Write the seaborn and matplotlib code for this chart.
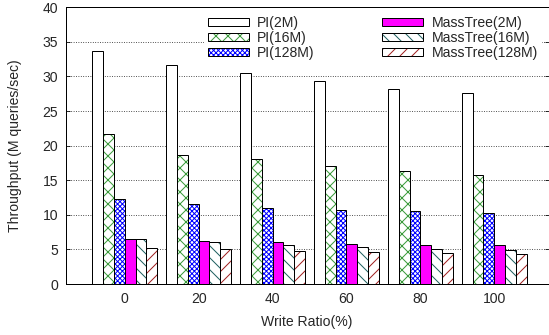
import pandas as pd
import matplotlib.pyplot as plt
import matplotlib.patches as mpatches
import seaborn as sns

# -----------------------------------------------------------------------------
# DATA
# -----------------------------------------------------------------------------

write_ratio = [0, 20, 40, 60, 80, 100]

series = ["PI(2M)", "PI(16M)", "PI(128M)",
          "MassTree(2M)", "MassTree(16M)", "MassTree(128M)"]

pi_2m = [33.7, 31.6, 30.5, 29.4, 28.2, 27.6]
pi_16m = [21.7, 18.6, 18.1, 17.1, 16.4, 15.8]
pi_128m = [12.3, 11.6, 11.0, 10.7, 10.6, 10.2]
mt_2m = [6.5, 6.2, 6.0, 5.8, 5.7, 5.6]
mt_16m = [6.5, 6.0, 5.7, 5.3, 5.1, 4.9]
mt_128m = [5.2, 5.0, 4.8, 4.6, 4.5, 4.4]

values = [pi_2m, pi_16m, pi_128m, mt_2m, mt_16m, mt_128m]

# styles per series
fill_colors = ["white", "white", "white", "#ff00ff", "white", "white"]
hatch_colors = ["black", "#3a9a3a", "#0000ff", "black", "#1f6060", "#a02020"]
hatches = ["", "xx", "xxxxx", "", "\\\\", "//"]

rows = []
for name, vals in zip(series, values):
    for r, v in zip(write_ratio, vals):
        rows.append({"ratio": r, "series": name, "throughput": v})
df = pd.DataFrame(rows)

# -----------------------------------------------------------------------------
# PLOT
# -----------------------------------------------------------------------------

sns.set_style("ticks")
plt.rcParams["font.family"] = ["Liberation Sans", "DejaVu Sans"]
plt.rcParams["hatch.linewidth"] = 1.0
FS = 14

fig = plt.figure(figsize=(549 / 72, 335 / 72), dpi=72)
ax = fig.add_axes([65.7 / 549, 1 - 284 / 335, (548.5 - 65.7) / 549, (284 - 7.3) / 335])

# hatched / filled bars
sns.barplot(data=df, x="ratio", y="throughput", hue="series", hue_order=series,
            palette=fill_colors, saturation=1, width=0.875, errorbar=None,
            linewidth=0, legend=False, ax=ax)
for cont, h, hc in zip(ax.containers, hatches, hatch_colors):
    for bar in cont:
        bar.set_hatch(h)
        bar.set_edgecolor(hc)
        bar.set_linewidth(0)

# black outlines on top
sns.barplot(data=df, x="ratio", y="throughput", hue="series", hue_order=series,
            palette=["black"] * 6, fill=False, width=0.875, errorbar=None,
            linewidth=1, legend=False, ax=ax)

ax.set_ylim(0, 40)
ax.set_yticks(range(0, 41, 5))
ax.set_xlim(-0.80, 5.735)
ax.yaxis.grid(True, linestyle=(0, (1, 2)), color="black", linewidth=0.8)
ax.set_axisbelow(True)

for s in ax.spines.values():
    s.set_visible(True)
    s.set_color("black")
    s.set_linewidth(1)

ax.tick_params(axis="y", direction="in", length=4, width=0.8, pad=7.5,
               labelsize=FS, right=True, color="black")
ax.tick_params(axis="x", length=0, pad=8, labelsize=FS)

ax.set_ylabel("Throughput (M queries/sec)", fontsize=FS, labelpad=21)
ax.set_xlabel("Write Ratio(%)", fontsize=FS, labelpad=9)

handles = []
for fc, hc, h in zip(fill_colors, hatch_colors, hatches):
    p1 = mpatches.Patch(facecolor=fc, edgecolor=hc, hatch=h, linewidth=0)
    p2 = mpatches.Patch(fill=False, edgecolor="black", linewidth=1)
    handles.append((p1, p2))

leg = ax.legend(handles, series, ncol=2, loc="upper left",
                bbox_to_anchor=(0.286, 0.985), fontsize=FS,
                frameon=True, fancybox=False, framealpha=1,
                handlelength=2.9, handleheight=0.5, handletextpad=0.6,
                columnspacing=4.85, labelspacing=0.1, borderpad=0.3,
                borderaxespad=0)
leg.get_frame().set_facecolor("white")
leg.get_frame().set_edgecolor("none")

fig.savefig("out.png", dpi=72)
plt.close(fig)
